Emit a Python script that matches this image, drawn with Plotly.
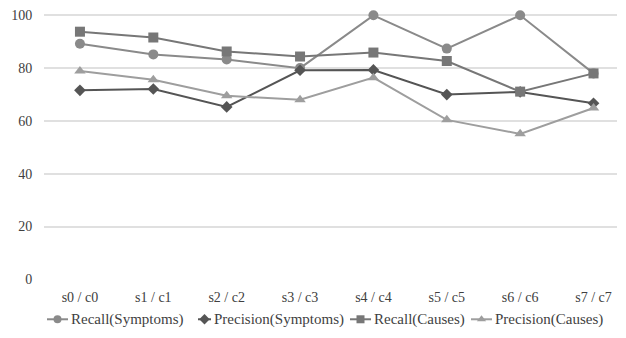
import plotly.graph_objects as go

categories = ["s0 / c0", "s1 / c1", "s2 / c2", "s3 / c3", "s4 / c4", "s5 / c5", "s6 / c6", "s7 / c7"]
recall_symptoms = [89.2, 85.2, 83.3, 80.0, 100.0, 87.4, 100.0, 78.0]
precision_symptoms = [71.6, 72.1, 65.3, 79.2, 79.3, 70.0, 71.0, 66.7]
recall_causes = [93.8, 91.6, 86.3, 84.4, 85.9, 82.7, 71.1, 78.0]
precision_causes = [78.9, 75.6, 69.5, 68.0, 76.4, 60.4, 55.1, 64.9]
y_ticks = [0, 20, 40, 60, 80, 100]

series_names = ["Recall(Symptoms)", "Precision(Symptoms)", "Recall(Causes)", "Precision(Causes)"]
series_values = [recall_symptoms, precision_symptoms, recall_causes, precision_causes]
series_colors = ["#8a8a8a", "#555555", "#777777", "#9e9e9e"]
series_symbols = ["circle", "diamond", "square", "triangle-up"]
series_sizes = [10, 9, 10, 10]

# custom legend layout (page pixel positions in the bottom strip)
legend_line_x0 = [47, 198, 350, 471]
legend_text_x = [69, 212, 372, 493]
legend_y = 11  # pixels above the page bottom

FONT = "'Liberation Serif', 'Times New Roman', Times, serif"

PAGE_OFF = 8  # default body margin of the html page
Y_TOP = 100.5
PX_PER_UNIT = (286 - 15) / 100.0
W, H = 626 - PAGE_OFF, 338 - PAGE_OFF
L, R, B = 44 - PAGE_OFF, 9, 0
T = 15 - PAGE_OFF - (Y_TOP - 100) * PX_PER_UNIT
plot_h = H - T - B
axis_bottom_px = 286 - PAGE_OFF
main_dom0 = (H - axis_bottom_px) / plot_h
leg_dom1 = 0.12

fig = go.Figure()
xs = list(range(len(categories)))
for name, vals, color, sym, size in zip(series_names, series_values, series_colors, series_symbols, series_sizes):
    fig.add_trace(go.Scatter(
        x=xs, y=vals, name=name, mode="lines+markers",
        line=dict(color=color, width=2),
        marker=dict(symbol=sym, size=size, color=color),
        cliponaxis=False, showlegend=False,
    ))

for i, (name, color, sym) in enumerate(zip(series_names, series_colors, series_symbols)):
    x0 = legend_line_x0[i]
    x1 = legend_text_x[i] - 1
    fig.add_trace(go.Scatter(
        x=[x0, x1], y=[legend_y, legend_y], mode="lines",
        line=dict(color=color, width=2), xaxis="x2", yaxis="y2",
        showlegend=False, hoverinfo="skip", cliponaxis=False,
    ))
    fig.add_trace(go.Scatter(
        x=[(x0 + x1) / 2], y=[legend_y], mode="markers",
        marker=dict(symbol=sym, size=8, color=color), xaxis="x2", yaxis="y2",
        showlegend=False, hoverinfo="skip", cliponaxis=False,
    ))
    fig.add_annotation(
        x=legend_text_x[i], y=legend_y, xref="x2", yref="y2",
        text=name, showarrow=False, xanchor="left", yanchor="middle",
        font=dict(size=15, color="#3f3f3f", family=FONT),
    )

fig.update_layout(
    width=W, height=H,
    margin=dict(l=L, r=R, t=T, b=B),
    paper_bgcolor="white", plot_bgcolor="white",
    font=dict(family=FONT, color="#404040", size=14),
    showlegend=False,
    xaxis=dict(
        tickmode="array", tickvals=xs, ticktext=categories,
        range=[-0.49, 7.32], showgrid=False, zeroline=False,
        showline=False, ticks="outside", ticklen=5, tickcolor="rgba(0,0,0,0)",
        tickfont=dict(size=14, family=FONT),
        anchor="y", domain=[0, 1],
    ),
    yaxis=dict(
        tickmode="array", tickvals=y_ticks, range=[0, Y_TOP],
        showgrid=True, gridcolor="#e0e0e0", gridwidth=1.5,
        zeroline=False, showline=False,
        ticks="outside", ticklen=8, tickcolor="rgba(0,0,0,0)",
        tickfont=dict(size=14, family=FONT),
        domain=[main_dom0, 1], anchor="x",
    ),
    xaxis2=dict(
        domain=[0, 1], range=[L + PAGE_OFF, W + PAGE_OFF - R], anchor="y2",
        visible=False, fixedrange=True,
    ),
    yaxis2=dict(
        domain=[0, leg_dom1], range=[0, leg_dom1 * plot_h], anchor="x2",
        visible=False, fixedrange=True,
    ),
)

fig.write_html("out.html")
